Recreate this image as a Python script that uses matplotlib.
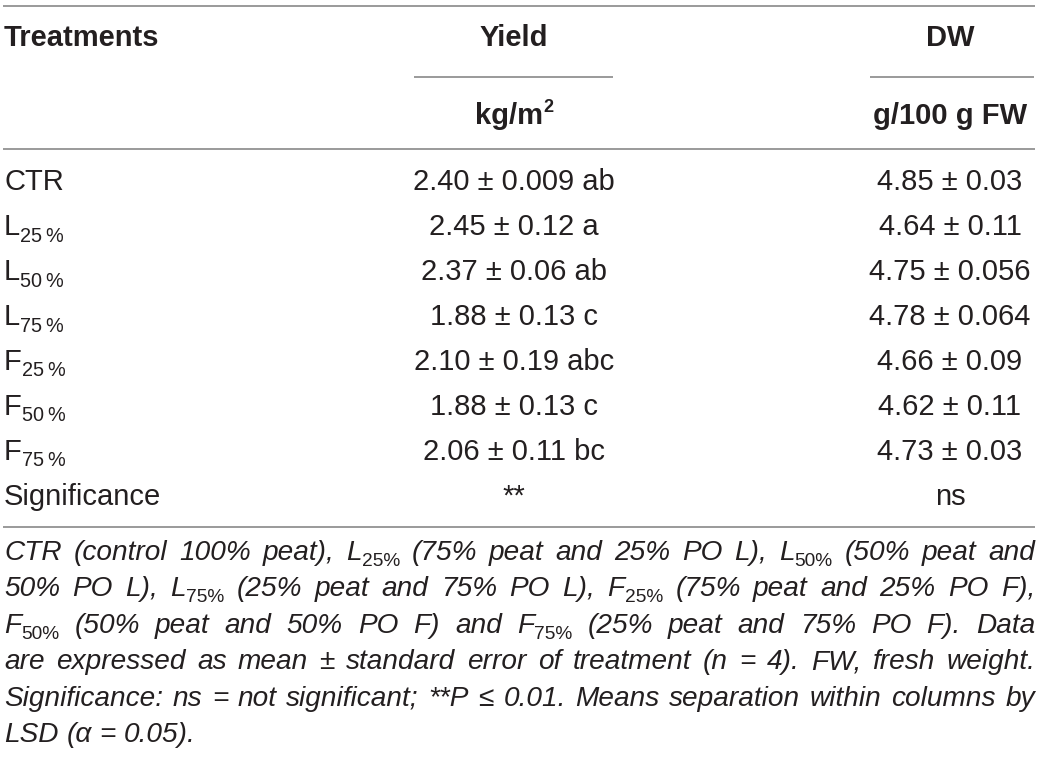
import re
import matplotlib
matplotlib.use("Agg")
import matplotlib.pyplot as plt

# ---------------- data ----------------
col_headers = ["Treatments", "Yield", "DW"]
col_units = ["", "kg/m", "g/100 g FW"]          # "kg/m" gets superscript 2
unit_sup = ["", "2", ""]
treat_base = ["CTR", "L", "L", "L", "F", "F", "F"]
treat_sub = ["", "25", "50", "75", "25", "50", "75"]
yield_mean = [2.40, 2.45, 2.37, 1.88, 2.10, 1.88, 2.06]
yield_se = ["0.009", "0.12", "0.06", "0.13", "0.19", "0.13", "0.11"]
yield_letters = ["ab", "a", "ab", "c", "abc", "c", "bc"]
dw_mean = [4.85, 4.64, 4.75, 4.78, 4.66, 4.62, 4.73]
dw_se = ["0.03", "0.11", "0.056", "0.064", "0.09", "0.11", "0.03"]
significance = ["Significance", "**", "ns"]
footnote_lines = [
    "CTR (control 100% peat), L_{25%} (75% peat and 25% PO L), L_{50%} (50% peat and",
    "50% PO L), L_{75%} (25% peat and 75% PO L), F_{25%} (75% peat and 25% PO F),",
    "F_{50%} (50% peat and 50% PO F) and F_{75%} (25% peat and 75% PO F). Data",
    "are expressed as mean \u00b1 standard error of treatment (n = 4). FW, fresh weight.",
    "Significance: ns = not significant; **P \u2264 0.01. Means separation within columns by",
    "LSD (\u03b1 = 0.05).",
]

# ---------------- style ----------------
FAM = ['Liberation Sans', 'DejaVu Sans']
plt.rcParams['font.family'] = FAM
TXT = '#231f20'
RULE = '#9a9a9a'
FS = 21.0
FN = 20.2

W, H = 1041, 759
fig = plt.figure(figsize=(W / 100, H / 100), dpi=100)
ax = fig.add_axes([0, 0, 1, 1])
ax.set_xlim(0, W)
ax.set_ylim(H, 0)
ax.axis('off')
rend = fig.canvas.get_renderer()

LEFT, RIGHT = 4, 1035
X_COL = [LEFT, 514, 950]
LINE_SPANS = [None, (414, 613), (870, 1034)]


def hline(y, x0=LEFT - 1, x1=RIGHT):
    ax.plot([x0, x1], [y, y], color=RULE, lw=1.4, solid_capstyle='butt')


def measure(text, **kw):
    t = ax.text(0, 0, text, **kw)
    w = t.get_window_extent(rend).width
    t.remove()
    return w


def run_kw(kind, base_kw, size):
    kw = dict(base_kw)
    if kind == 'n':
        kw['fontsize'] = size
        return kw, 0
    if kind == 'sub':
        kw['fontsize'] = size * 0.68
        kw['style'] = 'normal'
        return kw, size * 0.30
    if kind == 'sup':
        kw['fontsize'] = size * 0.62
        return kw, -size * 0.55
    return kw, 0


def draw_runs(x, y, runs, size, ha='left', **base_kw):
    widths = []
    for text, kind in runs:
        kw, _ = run_kw(kind, base_kw, size)
        widths.append(measure(text, **kw))
    total = sum(widths)
    if ha == 'center':
        x = x - total / 2
    elif ha == 'right':
        x = x - total
    for (text, kind), w in zip(runs, widths):
        kw, dy = run_kw(kind, base_kw, size)
        ax.text(x, y + dy, text, va='baseline', ha='left', color=TXT, **kw)
        x += w
    return total


# ---------------- rules ----------------
hline(6)
for span in LINE_SPANS[1:]:
    hline(77, span[0], span[1])
hline(149)
hline(527)

# ---------------- headers ----------------
Y_HEAD = 46.5
Y_UNIT = 123.5
ax.text(X_COL[0], Y_HEAD, col_headers[0], fontsize=FS, weight='bold',
        color=TXT, va='baseline', ha='left')
for i in (1, 2):
    ax.text(X_COL[i], Y_HEAD, col_headers[i], fontsize=FS, weight='bold',
            color=TXT, va='baseline', ha='center')
    runs = [(col_units[i], 'n')]
    if unit_sup[i]:
        runs.append((unit_sup[i], 'sup'))
    draw_runs(X_COL[i], Y_UNIT, runs, FS, ha='center', weight='bold')

# ---------------- body ----------------
Y0 = 190.5
STEP = 44.9
for r in range(len(treat_base)):
    y = Y0 + r * STEP
    runs = [(treat_base[r], 'n')]
    if treat_sub[r]:
        runs.append((treat_sub[r] + "\u2009%", 'sub'))
    draw_runs(X_COL[0], y, runs, FS, ha='left')
    ax.text(X_COL[1], y, f"{yield_mean[r]:.2f} \u00b1 {yield_se[r]} {yield_letters[r]}",
            fontsize=FS, color=TXT, va='baseline', ha='center')
    ax.text(X_COL[2], y, f"{dw_mean[r]:.2f} \u00b1 {dw_se[r]}",
            fontsize=FS, color=TXT, va='baseline', ha='center')

y = Y0 + len(treat_base) * STEP
ax.text(X_COL[0], y, significance[0], fontsize=FS, color=TXT, va='baseline', ha='left')
ax.text(X_COL[1], y, significance[1], fontsize=FS, color=TXT, va='baseline', ha='center')
ax.text(X_COL[2], y, significance[2], fontsize=FS, color=TXT, va='baseline', ha='center')

# ---------------- footnote (justified) ----------------
F_Y0 = 560
F_STEP = 36.4
pat = re.compile(r'_\{([^}]*)\}')


def parse_word(word):
    runs = []
    pos = 0
    for m in pat.finditer(word):
        if m.start() > pos:
            runs.append((word[pos:m.start()], 'n'))
        runs.append((m.group(1), 'sub'))
        pos = m.end()
    if pos < len(word):
        runs.append((word[pos:], 'n'))
    return runs


space_w = measure("a a", fontsize=FN, style='italic') - measure("aa", fontsize=FN, style='italic')
for li, line in enumerate(footnote_lines):
    y = F_Y0 + li * F_STEP
    words = [parse_word(w) for w in line.split(' ')]
    wlist = []
    for runs in words:
        tot = 0
        for text, kind in runs:
            kw, _ = run_kw(kind, dict(style='italic'), FN)
            tot += measure(text, **kw)
        wlist.append(tot)
    last = li == len(footnote_lines) - 1
    if last or len(words) < 2:
        gap = space_w
    else:
        gap = (RIGHT - LEFT - sum(wlist)) / (len(words) - 1)
    x = LEFT
    for runs, w in zip(words, wlist):
        draw_runs(x, y, runs, FN, ha='left', style='italic')
        x += w + gap

fig.savefig("out.png", dpi=100, facecolor='white')
